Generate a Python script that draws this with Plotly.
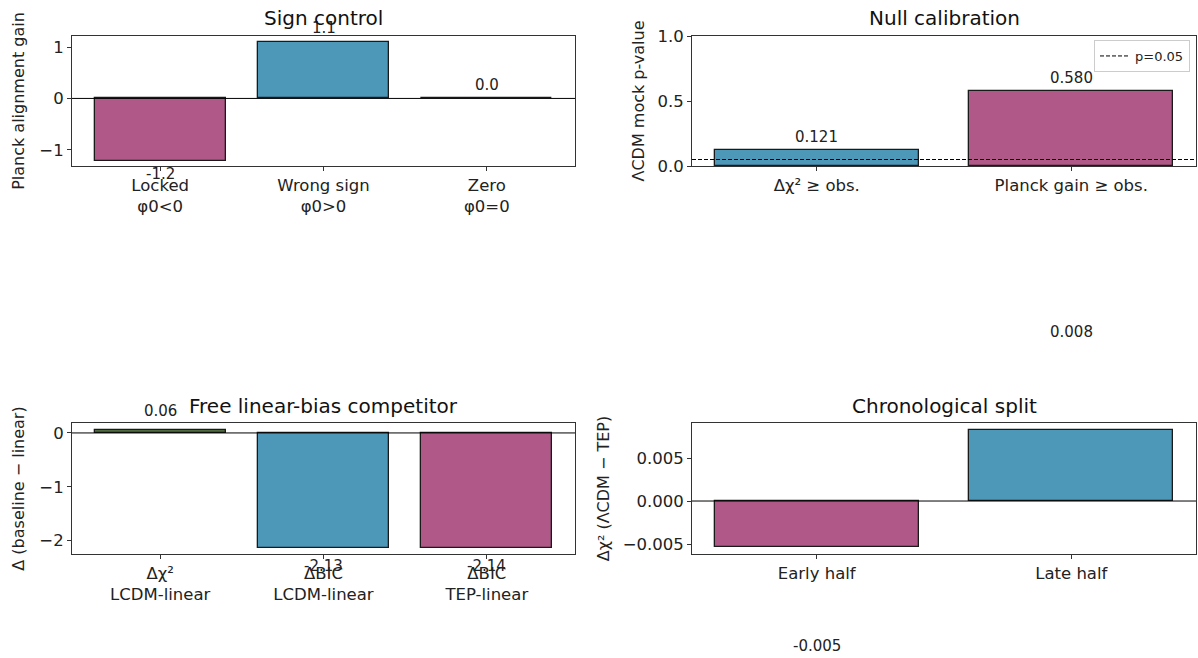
import plotly.graph_objects as go

# ---- data ----
sign_cats = ["Locked<br>φ0&lt;0", "Wrong sign<br>φ0&gt;0", "Zero<br>φ0=0"]
sign_vals = [-1.21, 1.10, 0.0]

null_cats = ["Δχ² ≥ obs.", "Planck gain ≥ obs."]
null_vals = [0.121, 0.580]
p_threshold = 0.05

lin_cats = ["Δχ²<br>LCDM-linear", "ΔBIC<br>LCDM-linear", "ΔBIC<br>TEP-linear"]
lin_vals = [0.06, -2.13, -2.14]

chrono_cats = ["Early half", "Late half"]
chrono_vals = [-0.0054, 0.0082]

MAG = "#B05887"
BLU = "#4D98B8"
GRN = "#4E6B3E"
FONT = "DejaVu Sans"

W, H = 1198, 658
def dx(a, b):
    return [a / W, b / W]
def dy(top, bot):
    return [(H - bot) / H, (H - top) / H]

fig = go.Figure()

def add_bars(ax, cats, vals, colors):
    fig.add_trace(go.Bar(
        x=list(range(len(cats))), y=vals, width=0.8,
        marker=dict(color=colors, line=dict(color="#1a1a1a", width=1.3)),
        xaxis="x" + ax, yaxis="y" + ax, showlegend=False, hoverinfo="skip"))

add_bars("", sign_cats, sign_vals, [MAG, BLU, MAG])
add_bars("2", null_cats, null_vals, [BLU, MAG])
add_bars("3", lin_cats, lin_vals, [GRN, BLU, MAG])
add_bars("4", chrono_cats, chrono_vals, [MAG, BLU])

# threshold line (legend entry)
fig.add_trace(go.Scatter(
    x=[-0.49, 1.49], y=[p_threshold, p_threshold], mode="lines",
    line=dict(color="black", width=1, dash="4px,2px"), name="p=0.05",
    xaxis="x2", yaxis="y2", showlegend=True, hoverinfo="skip"))

TICK = 16.5
axis_common = dict(showline=True, mirror=True, linecolor="#333", linewidth=1,
                   ticks="outside", ticklen=4, tickcolor="#333", showgrid=False,
                   zeroline=False, automargin=False,
                   tickfont=dict(size=TICK, family=FONT, color="#222"))

def xaxis(cats, rng, dom, anchor):
    return dict(axis_common, domain=dom, range=rng, anchor=anchor,
                tickmode="array", tickvals=list(range(len(cats))), ticktext=cats)

def yaxis(rng, dom, anchor, title, tickvals, ticktext, standoff):
    return dict(axis_common, domain=dom, range=rng, anchor=anchor,
                tickmode="array", tickvals=tickvals, ticktext=ticktext,
                title=dict(text=title, font=dict(size=16, family=FONT, color="#222"),
                           standoff=standoff))

PANELS = {
    "": dict(x=(72, 575), y=(36, 166), r=[-1.315, 1.215]),
    "2": dict(x=(692, 1196), y=(36, 166), r=[0, 1.0]),
    "3": dict(x=(72, 575), y=(423, 554), r=[-2.25, 0.185]),
    "4": dict(x=(692, 1196), y=(423, 554), r=[-0.00616, 0.00907]),
}

fig.update_layout(
    xaxis=xaxis(sign_cats, [-0.54, 2.54], dx(*PANELS[""]["x"]), "y"),
    yaxis=yaxis(PANELS[""]["r"], dy(*PANELS[""]["y"]), "x", "Planck alignment gain",
                [-1, 0, 1], ["−1", "0", "1"], 10),
    xaxis2=xaxis(null_cats, [-0.49, 1.49], dx(*PANELS["2"]["x"]), "y2"),
    yaxis2=yaxis(PANELS["2"]["r"], dy(*PANELS["2"]["y"]), "x2", "ΛCDM mock p-value",
                 [0, 0.5, 1.0], ["0.0", "0.5", "1.0"], 8),
    xaxis3=xaxis(lin_cats, [-0.54, 2.54], dx(*PANELS["3"]["x"]), "y3"),
    yaxis3=yaxis(PANELS["3"]["r"], dy(*PANELS["3"]["y"]), "x3", "Δ (baseline − linear)",
                 [-2, -1, 0], ["−2", "−1", "0"], 10),
    xaxis4=xaxis(chrono_cats, [-0.49, 1.49], dx(*PANELS["4"]["x"]), "y4"),
    yaxis4=yaxis(PANELS["4"]["r"], dy(*PANELS["4"]["y"]), "x4", "Δχ² (ΛCDM − TEP)",
                 [-0.005, 0, 0.005], ["−0.005", "0.000", "0.005"], 9),
)

# zero lines
for ax in ["", "3", "4"]:
    fig.add_shape(type="line", xref=("x" + ax if ax else "x") + " domain",
                  yref="y" + ax, x0=0, x1=1, y0=0, y1=0,
                  line=dict(color="black", width=1))

# value labels (placed in paper coords so they can sit outside the axes)
def to_paper(ax, v):
    p = PANELS[ax]
    r0, r1 = p["r"]
    top, bot = p["y"]
    pix = top + (r1 - v) / (r1 - r0) * (bot - top)
    return 1 - pix / H

def add_labels(ax, vals, fmt, off):
    for i, v in enumerate(vals):
        yy = v + off if v >= 0 else v - off
        fig.add_annotation(x=i, y=to_paper(ax, yy), xref="x" + ax, yref="paper",
                           text=fmt.format(v), showarrow=False,
                           xanchor="center", yanchor="middle",
                           font=dict(size=15, family=FONT, color="#222"))

add_labels("", sign_vals, "{:.1f}", 0.27)
add_labels("2", null_vals, "{:.3f}", 0.10)
add_labels("3", lin_vals, "{:.2f}", 0.34)
add_labels("4", chrono_vals, "{:.3f}", 0.0114)

# titles
titles = [("Sign control", 323, 18), ("Null calibration", 944, 18),
          ("Free linear-bias competitor", 323, 406), ("Chronological split", 944, 406)]
for t, px, py in titles:
    fig.add_annotation(x=px / W, y=1 - py / H, xref="paper", yref="paper",
                       text=t, showarrow=False, xanchor="center", yanchor="middle",
                       font=dict(size=20, family=FONT, color="#111"))

fig.update_layout(
    width=W, height=H, margin=dict(l=0, r=0, t=0, b=0),
    paper_bgcolor="white", plot_bgcolor="white",
    font=dict(family=FONT, color="#222"),
    legend=dict(x=1190 / W, y=1 - 40 / H, xanchor="right", yanchor="top",
                bgcolor="white", bordercolor="#ccc", borderwidth=1,
                font=dict(size=13, family=FONT), itemwidth=30),
    bargap=0,
)

fig.write_html("out.html")
